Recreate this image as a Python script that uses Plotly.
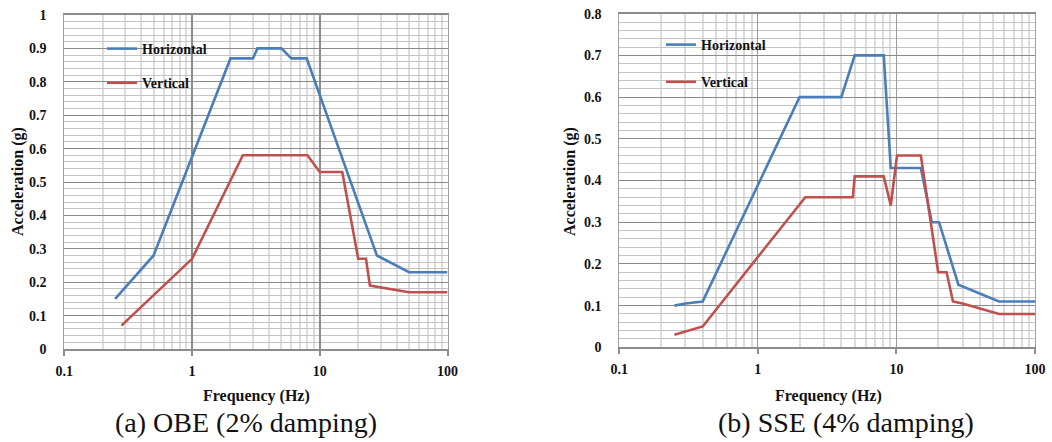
import plotly.graph_objects as go

# ---------------- data ----------------
obe_h_freq = [0.25, 0.5, 2.0, 3.0, 3.25, 5.0, 6.0, 7.9, 28.0, 50.0, 100.0]
obe_h_acc = [0.15, 0.28, 0.87, 0.87, 0.90, 0.90, 0.87, 0.87, 0.28, 0.23, 0.23]

obe_v_freq = [0.28, 1.0, 2.5, 8.0, 10.0, 15.0, 20.0, 23.0, 24.7, 30.0, 50.0, 100.0]
obe_v_acc = [0.07, 0.27, 0.58, 0.58, 0.53, 0.53, 0.27, 0.27, 0.19, 0.185, 0.17, 0.17]

sse_h_freq = [0.25, 0.3, 0.4, 2.0, 4.0, 5.0, 8.1, 9.1, 15.0, 18.0, 20.3, 28.0, 55.0, 100.0]
sse_h_acc = [0.10, 0.105, 0.11, 0.60, 0.60, 0.70, 0.70, 0.43, 0.43, 0.30, 0.30, 0.15, 0.11, 0.11]

sse_v_freq = [0.25, 0.4, 2.2, 4.85, 5.0, 8.1, 9.1, 10.1, 15.0, 20.0, 23.0, 25.6, 30.0, 55.0, 100.0]
sse_v_acc = [0.03, 0.05, 0.36, 0.36, 0.41, 0.41, 0.34, 0.46, 0.46, 0.18, 0.18, 0.11, 0.105, 0.08, 0.08]

series_names = ["Horizontal", "Vertical"]
x_tick_vals = [0.1, 1, 10, 100]
x_tick_text = ["0.1", "1", "10", "100"]
captions = ["(a) OBE (2% damping)", "(b) SSE (4% damping)"]
x_title = "Frequency (Hz)"
y_title = "Acceleration (g)"

BLUE = "#4a7ebb"
RED = "#c0504d"
W, H = 1052, 442
SERIF = "Liberation Serif"

fig = go.Figure()

fig.add_trace(go.Scatter(x=obe_h_freq, y=obe_h_acc, mode="lines", name="<b>" + series_names[0] + "</b>",
                         line=dict(color=BLUE, width=2.6), xaxis="x", yaxis="y",
                         legend="legend", legendgroup="a1"))
fig.add_trace(go.Scatter(x=obe_v_freq, y=obe_v_acc, mode="lines", name="<b>" + series_names[1] + "</b>",
                         line=dict(color=RED, width=2.6), xaxis="x", yaxis="y",
                         legend="legend", legendgroup="a2"))
fig.add_trace(go.Scatter(x=sse_h_freq, y=sse_h_acc, mode="lines", name="<b>" + series_names[0] + "</b>",
                         line=dict(color=BLUE, width=2.6), xaxis="x2", yaxis="y2",
                         legend="legend2", legendgroup="b1"))
fig.add_trace(go.Scatter(x=sse_v_freq, y=sse_v_acc, mode="lines", name="<b>" + series_names[1] + "</b>",
                         line=dict(color=RED, width=2.6), xaxis="x2", yaxis="y2",
                         legend="legend2", legendgroup="b2"))

minor_x = [m * 10 ** e for e in (-1, 0, 1) for m in range(2, 10)]

tick_font = dict(family=SERIF, size=14, color="#111")


def px_x(p):
    return p / W


def px_y(p):
    return 1 - p / H


def xaxis(dom, major_grid_w, major_grid_c, anchor):
    return dict(
        type="log", domain=dom, range=[-1, 2], anchor=anchor, automargin=False,
        tickmode="array", tickvals=x_tick_vals, ticktext=["<b>" + t + "</b>" for t in x_tick_text],
        tickfont=tick_font, ticks="outside", ticklen=5, tickcolor="#909090", tickwidth=2,
        showgrid=True, gridcolor=major_grid_c, gridwidth=major_grid_w,
        minor=dict(tickmode="array", tickvals=minor_x, showgrid=True,
                   gridcolor="#dcdcdc", gridwidth=2, ticks=""),
        showline=True, linecolor="#8c8c8c", linewidth=2, mirror=True,
        zeroline=False, fixedrange=True, ticklabelstandoff=3,
    )


def yaxis(dom, rng, anchor):
    return dict(
        domain=dom, range=rng, anchor=anchor, dtick=0.1, tick0=0, automargin=False,
        tickfont=tick_font, tickprefix="<b>", ticksuffix="</b>",
        ticks="", showgrid=True, gridcolor="#8a8a8a", gridwidth=1,
        minor=dict(dtick=0.02, showgrid=True, gridcolor="#c4c4c4", gridwidth=1),
        showline=True, linecolor="#a0a0a0", linewidth=1, mirror=True,
        zeroline=False, ticklabelstandoff=14, fixedrange=True,
    )


fig.update_layout(
    width=W, height=H,
    margin=dict(l=0, r=0, t=0, b=0, autoexpand=False),
    paper_bgcolor="white", plot_bgcolor="white",
    font=dict(family=SERIF, color="#111"),
    xaxis=xaxis([px_x(64.3), px_x(447.5)], 2, "#8c8c8c", "y"),
    yaxis=yaxis([px_y(349), px_y(15)], [0, 1], "x"),
    xaxis2=xaxis([px_x(619.3), px_x(1035)], 1, "#9a9a9a", "y2"),
    yaxis2=yaxis([px_y(347.3), px_y(13.7)], [0, 0.8], "x2"),
    legend=dict(x=px_x(102), y=px_y(33), xanchor="left", yanchor="top",
                bgcolor="rgba(0,0,0,0)", borderwidth=0, traceorder="grouped",
                tracegroupgap=13, font=dict(family=SERIF, size=14, color="#111"),
                itemwidth=30),
    legend2=dict(x=px_x(661), y=px_y(29), xanchor="left", yanchor="top",
                 bgcolor="rgba(0,0,0,0)", borderwidth=0, traceorder="grouped",
                 tracegroupgap=16, font=dict(family=SERIF, size=14, color="#111"),
                 itemwidth=30),
    showlegend=True,
)

annotations = []
for cx, text in [(256, x_title), (828, x_title)]:
    annotations.append(dict(x=px_x(cx), y=px_y(396), xref="paper", yref="paper",
                            xanchor="center", yanchor="middle",
                            text="<b>" + text + "</b>", showarrow=False,
                            font=dict(family=SERIF, size=16, color="#111")))
for cx, text in [(18, y_title), (570, y_title)]:
    annotations.append(dict(x=px_x(cx), y=px_y(182), xref="paper", yref="paper",
                            xanchor="center", yanchor="middle",
                            text="<b>" + text + "</b>", showarrow=False, textangle=-90,
                            font=dict(family=SERIF, size=16, color="#111")))
for cx, text in [(246, captions[0]), (846, captions[1])]:
    annotations.append(dict(x=px_x(cx), y=px_y(422), xref="paper", yref="paper",
                            xanchor="center", yanchor="middle",
                            text=text, showarrow=False,
                            font=dict(family=SERIF, size=28, color="#111")))
fig.update_layout(annotations=annotations)

fig.write_html("out.html", config={"displayModeBar": False},
               post_script="document.body.style.margin='0';document.body.style.padding='0';"
                           "document.body.style.overflow='hidden';")
